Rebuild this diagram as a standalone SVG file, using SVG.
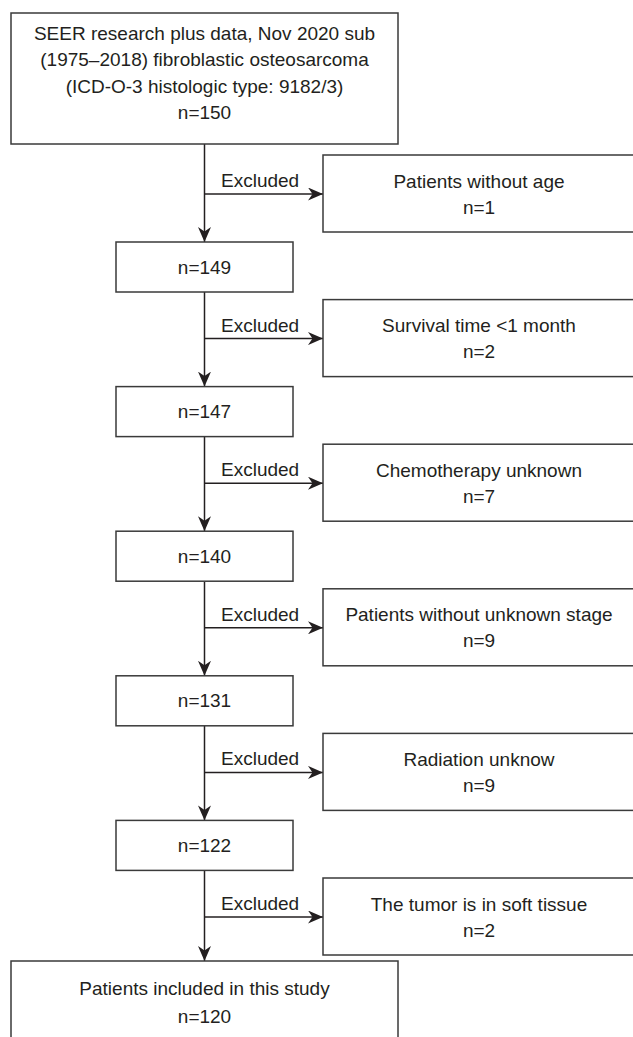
<svg xmlns="http://www.w3.org/2000/svg" width="633" height="1037" viewBox="0 0 633 1037">
<style>
.box{fill:#fff;stroke:#3a3a3a;stroke-width:1.5}
.ln{fill:none;stroke:#231f20;stroke-width:1.5}
text{font-family:"Liberation Sans",Arial,sans-serif;font-size:19px;fill:#231f20;text-anchor:middle}
.lbl{text-anchor:start}
</style>
<defs>
<marker id="ah" markerUnits="userSpaceOnUse" markerWidth="15" markerHeight="13" refX="15" refY="6.5" orient="auto">
<path d="M0,0 L15,6.5 L0,13 L4.5,6.5 z" fill="#231f20"/>
</marker>
</defs>
<rect width="633" height="1037" fill="#fff"/>
<g id="connectors">
<line class="ln" x1="204.5" y1="144" x2="204.5" y2="242" marker-end="url(#ah)"/>
<line class="ln" x1="204.5" y1="292" x2="204.5" y2="386.6" marker-end="url(#ah)"/>
<line class="ln" x1="204.5" y1="437" x2="204.5" y2="531.2" marker-end="url(#ah)"/>
<line class="ln" x1="204.5" y1="582" x2="204.5" y2="675.8" marker-end="url(#ah)"/>
<line class="ln" x1="204.5" y1="726" x2="204.5" y2="820.4" marker-end="url(#ah)"/>
<line class="ln" x1="204.5" y1="870" x2="204.5" y2="961" marker-end="url(#ah)"/>
<line class="ln" x1="204.5" y1="194" x2="323" y2="194" marker-end="url(#ah)"/>
<line class="ln" x1="204.5" y1="338.6" x2="323" y2="338.6" marker-end="url(#ah)"/>
<line class="ln" x1="204.5" y1="483.2" x2="323" y2="483.2" marker-end="url(#ah)"/>
<line class="ln" x1="204.5" y1="627.8" x2="323" y2="627.8" marker-end="url(#ah)"/>
<line class="ln" x1="204.5" y1="772.4" x2="323" y2="772.4" marker-end="url(#ah)"/>
<line class="ln" x1="204.5" y1="917" x2="323" y2="917" marker-end="url(#ah)"/>
<text class="lbl" x="221" y="187">Excluded</text>
<text class="lbl" x="221" y="331.6">Excluded</text>
<text class="lbl" x="221" y="476.2">Excluded</text>
<text class="lbl" x="221" y="620.8">Excluded</text>
<text class="lbl" x="221" y="765.4">Excluded</text>
<text class="lbl" x="221" y="910">Excluded</text>
</g>
<g id="start">
<rect class="box" x="11" y="13" width="387" height="131"/>
<text x="204.5" y="39.5">SEER research plus data, Nov 2020 sub</text>
<text x="204.5" y="66">(1975–2018) fibroblastic osteosarcoma</text>
<text x="204.5" y="92.5">(ICD-O-3 histologic type: 9182/3)</text>
<text x="204.5" y="119">n=150</text>
</g>
<g id="ex1">
<rect class="box" x="323" y="155" width="320" height="77"/>
<text x="479" y="187.5">Patients without age</text>
<text x="479" y="213.5">n=1</text>
</g>
<g id="n149">
<rect class="box" x="116" y="242" width="177" height="50"/>
<text x="204.5" y="273.5">n=149</text>
</g>
<g id="ex2">
<rect class="box" x="323" y="299.6" width="320" height="77"/>
<text x="479" y="332.1">Survival time &lt;1 month</text>
<text x="479" y="358.1">n=2</text>
</g>
<g id="n147">
<rect class="box" x="116" y="386.6" width="177" height="50"/>
<text x="204.5" y="418.1">n=147</text>
</g>
<g id="ex3">
<rect class="box" x="323" y="444.2" width="320" height="77"/>
<text x="479" y="476.7">Chemotherapy unknown</text>
<text x="479" y="502.7">n=7</text>
</g>
<g id="n140">
<rect class="box" x="116" y="531.2" width="177" height="50"/>
<text x="204.5" y="562.7">n=140</text>
</g>
<g id="ex4">
<rect class="box" x="323" y="588.8" width="320" height="77"/>
<text x="479" y="621.3">Patients without unknown stage</text>
<text x="479" y="647.3">n=9</text>
</g>
<g id="n131">
<rect class="box" x="116" y="675.8" width="177" height="50"/>
<text x="204.5" y="707.3">n=131</text>
</g>
<g id="ex5">
<rect class="box" x="323" y="733.4" width="320" height="77"/>
<text x="479" y="765.9">Radiation unknow</text>
<text x="479" y="791.9">n=9</text>
</g>
<g id="n122">
<rect class="box" x="116" y="820.4" width="177" height="50"/>
<text x="204.5" y="851.9">n=122</text>
</g>
<g id="ex6">
<rect class="box" x="323" y="878" width="320" height="77"/>
<text x="479" y="910.5">The tumor is in soft tissue</text>
<text x="479" y="936.5">n=2</text>
</g>
<g id="final">
<rect class="box" x="11" y="961" width="387" height="90"/>
<text x="204.5" y="995">Patients included in this study</text>
<text x="204.5" y="1023">n=120</text>
</g>
</svg>
